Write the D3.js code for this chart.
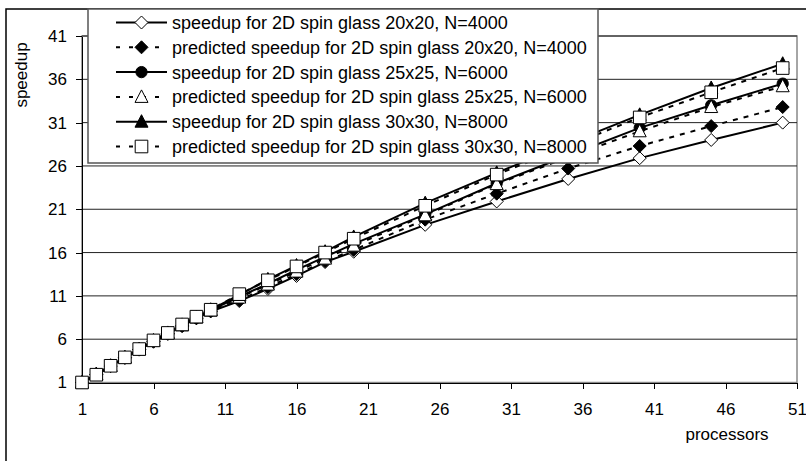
<!DOCTYPE html>
<html>
<head>
<meta charset="utf-8">
<script src="https://cdn.jsdelivr.net/npm/d3@7"></script>
<style>
  body { margin: 0; background: #fff; }
  svg { display: block; font-family: "Liberation Sans", Arial, sans-serif; }
  .axis path, .axis line { stroke: #000; shape-rendering: crispEdges; }
  .axis text { font-size: 17px; fill: #000; font-family: "Liberation Sans", Arial, sans-serif; }
</style>
</head>
<body>
<div id="chart"></div>
<script>
// data
var processors = [1, 2, 3, 4, 5, 6, 7, 8, 9, 10, 12, 14, 16, 18, 20, 25, 30, 35, 40, 45, 50];

var speedup20 = [1, 1.95, 2.9, 3.85, 4.8, 5.7, 6.6, 7.5, 8.4, 9.2, 10.4, 11.8, 13.3, 14.9, 16.1, 19.2, 21.9, 24.5, 26.9, 29.0, 31.0];
var predicted20 = [1, 1.95, 2.9, 3.85, 4.8, 5.75, 6.65, 7.55, 8.45, 9.25, 10.5, 12.0, 13.5, 15.0, 16.3, 19.8, 22.8, 25.7, 28.3, 30.6, 32.8];
var speedup25 = [1, 1.95, 2.92, 3.88, 4.83, 5.8, 6.7, 7.6, 8.5, 9.35, 10.9, 12.4, 14.0, 15.5, 17.0, 20.4, 24.0, 27.2, 30.4, 33.0, 35.5];
var predicted25 = [1, 1.95, 2.92, 3.88, 4.83, 5.8, 6.7, 7.6, 8.5, 9.3, 10.8, 12.3, 13.8, 15.3, 16.8, 20.3, 23.9, 27.0, 30.0, 32.8, 35.2];
var speedup30 = [1, 1.95, 2.93, 3.9, 4.86, 5.85, 6.72, 7.65, 8.55, 9.4, 11.1, 12.9, 14.5, 16.1, 17.8, 21.7, 25.2, 28.6, 31.9, 35.0, 37.8];
var predicted30 = [1, 1.9, 2.93, 3.9, 4.86, 5.86, 6.72, 7.7, 8.6, 9.4, 11.2, 12.8, 14.4, 16.0, 17.6, 21.4, 25.0, 28.3, 31.6, 34.5, 37.3];

var seriesNames = [
  'speedup for 2D spin glass 20x20, N=4000',
  'predicted speedup for 2D spin glass 20x20, N=4000',
  'speedup for 2D spin glass 25x25, N=6000',
  'predicted speedup for 2D spin glass 25x25, N=6000',
  'speedup for 2D spin glass 30x30, N=8000',
  'predicted speedup for 2D spin glass 30x30, N=8000'
];
var seriesValues = [speedup20, predicted20, speedup25, predicted25, speedup30, predicted30];

var xTicks = [1, 6, 11, 16, 21, 26, 31, 36, 41, 46, 51];
var yTicks = [1, 6, 11, 16, 21, 26, 31, 36, 41];

// marker style per series: shape, filled, dashed line
var styles = [
  {shape: 'diamond', fill: '#fff', dash: null},
  {shape: 'diamond', fill: '#000', dash: '5,6'},
  {shape: 'circle', fill: '#000', dash: null},
  {shape: 'triangle', fill: '#fff', dash: '5,6'},
  {shape: 'triangle', fill: '#000', dash: null},
  {shape: 'square', fill: '#fff', dash: '5,6'}
];

var W = 806, H = 461;
var m = {t: 36, r: 9, b: 78.5, l: 82};
var w = W - m.l - m.r,
    h = H - m.t - m.b;

var svg = d3.select('#chart').append('svg')
  .attr('width', W)
  .attr('height', H);

svg.append('rect').attr('width', W).attr('height', H).attr('fill', '#fff');

// outer chart border
svg.append('rect')
  .attr('x', 6).attr('y', 9)
  .attr('width', W + 10).attr('height', H + 10)
  .attr('fill', 'none')
  .attr('stroke', '#000')
  .attr('stroke-width', 1.5);

var plot = svg.append('g')
  .attr('transform', 'translate(' + m.l + ',' + m.t + ')');

var x = d3.scaleLinear().domain([1, 51]).range([0, w]);
var y = d3.scaleLinear().domain([1, 41]).range([h, 0]);

// plot area border
plot.append('rect')
  .attr('width', w).attr('height', h)
  .attr('fill', 'none')
  .attr('stroke', '#888')
  .attr('stroke-width', 1.5);

// gridlines
plot.selectAll('.grid')
  .data(yTicks.slice(1))
  .enter()
  .append('line')
  .attr('class', 'grid')
  .attr('x1', 0).attr('x2', w)
  .attr('y1', function(d){ return y(d); })
  .attr('y2', function(d){ return y(d); })
  .attr('stroke', '#222')
  .attr('stroke-width', 1);

// axes
plot.append('g').attr('class', 'axis')
  .attr('transform', 'translate(0,' + h + ')')
  .call(d3.axisBottom(x).tickValues(xTicks).tickSize(6).tickSizeOuter(0).tickPadding(14));

plot.append('g').attr('class', 'axis')
  .call(d3.axisLeft(y).tickValues(yTicks).tickSize(6).tickSizeOuter(0).tickPadding(9));

// marker path
function markerPath(shape){
  if (shape == 'diamond') return 'M0,-6.5L6.5,0L0,6.5L-6.5,0Z';
  if (shape == 'square') return 'M-6.3,-6.3H6.3V6.3H-6.3Z';
  if (shape == 'triangle') return 'M0,-7L6.5,5.5H-6.5Z';
  return d3.symbol().type(d3.symbolCircle).size(100)();
}

var line = d3.line()
  .x(function(d){ return x(d[0]); })
  .y(function(d){ return y(d[1]); });

seriesValues.forEach(function(vals, i){
  var pts = processors.map(function(p, j){ return [p, vals[j]]; });
  var st = styles[i];
  var g = plot.append('g').attr('class', 'series');

  g.append('path')
    .datum(pts)
    .attr('d', line)
    .attr('fill', 'none')
    .attr('stroke', '#000')
    .attr('stroke-width', 2)
    .attr('stroke-dasharray', st.dash);

  g.selectAll('.marker')
    .data(pts)
    .enter()
    .append('path')
    .attr('class', 'marker')
    .attr('d', markerPath(st.shape))
    .attr('transform', function(d){ return 'translate(' + x(d[0]) + ',' + y(d[1]) + ')'; })
    .attr('fill', st.fill)
    .attr('stroke', '#000')
    .attr('stroke-width', 1);
});

// axis titles
svg.append('text')
  .attr('transform', 'translate(27,' + 75 + ') rotate(-90)')
  .style('text-anchor', 'middle')
  .style('font-size', '17px')
  .text('speedup');

svg.append('text')
  .attr('x', 727).attr('y', 440)
  .style('text-anchor', 'middle')
  .style('font-size', '17px')
  .text('processors');

// legend
var legend = svg.append('g').attr('transform', 'translate(88,9)');
legend.append('rect')
  .attr('width', 510).attr('height', 154)
  .attr('fill', '#fff')
  .attr('stroke', '#555')
  .attr('stroke-width', 1.5);

var rows = legend.selectAll('.row')
  .data(seriesNames)
  .enter()
  .append('g')
  .attr('class', 'row')
  .attr('transform', function(d, i){ return 'translate(0,' + (13.5 + i * 24.8) + ')'; });

rows.append('line')
  .attr('x1', 28).attr('x2', 79)
  .attr('stroke', '#000')
  .attr('stroke-width', 2)
  .attr('stroke-dasharray', function(d, i){ return styles[i].dash ? '4,9' : null; });

rows.append('path')
  .attr('d', function(d, i){ return markerPath(styles[i].shape); })
  .attr('transform', 'translate(53.5,0)')
  .attr('fill', function(d, i){ return styles[i].fill; })
  .attr('stroke', '#000')
  .attr('stroke-width', 1);

rows.append('text')
  .attr('x', 84)
  .attr('y', 6.5)
  .style('font-size', '18px')
  .text(function(d){ return d; });
</script>
</body>
</html>
